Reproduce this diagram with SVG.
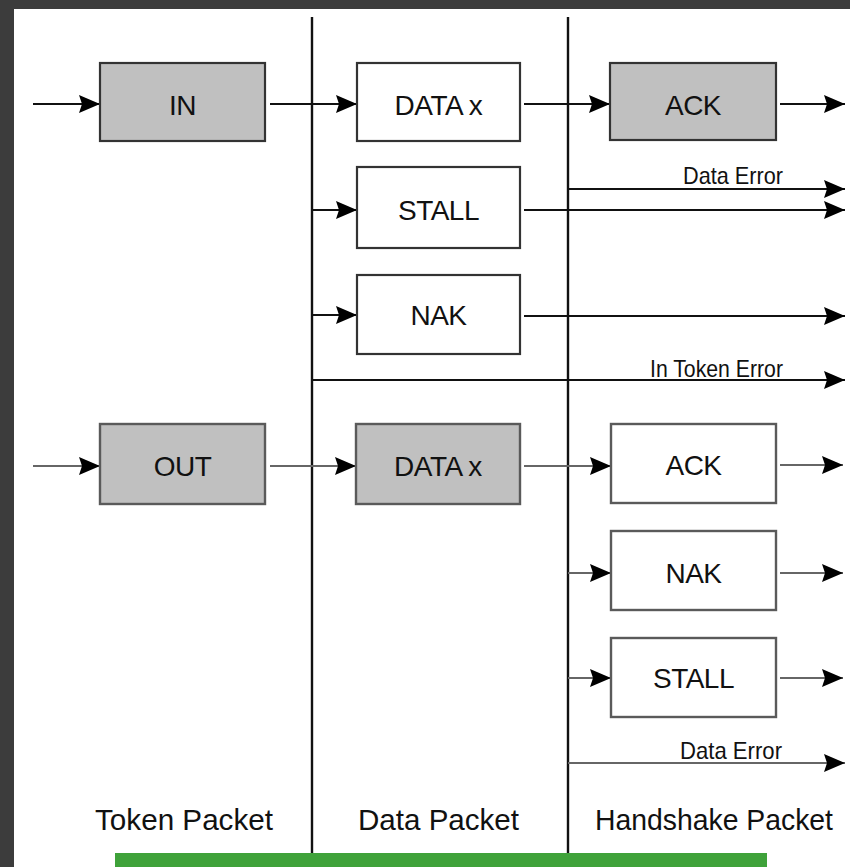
<svg xmlns="http://www.w3.org/2000/svg" width="850" height="867" viewBox="0 0 850 867">
<style>
.box{stroke:#333;stroke-width:2.2}
.box2{stroke:#5a5a5a;stroke-width:2.4}
.gray{fill:#c0c0c0}
.white{fill:#ffffff}
.lbl{font-family:"Liberation Sans",Arial,sans-serif;font-size:28px;fill:#111;text-anchor:middle;letter-spacing:-0.5px}
.small{font-family:"Liberation Sans",Arial,sans-serif;font-size:24px;fill:#111}
.col{font-family:"Liberation Sans",Arial,sans-serif;font-size:30px;fill:#111}
.ln{stroke:#111;stroke-width:2;fill:none;marker-end:url(#ah)}
.ln2{stroke:#666;stroke-width:2.2;fill:none;marker-end:url(#ah)}
.v{stroke:#111;stroke-width:2.4;fill:none}
</style>
<defs>
<marker id="ah" markerUnits="userSpaceOnUse" markerWidth="22" markerHeight="18" refX="21" refY="9" orient="auto">
<path d="M0,0 L21,9 L0,18 L3,9 z" fill="#000"/>
</marker>
</defs>
<rect x="0" y="0" width="850" height="867" fill="#3c3c3c"/>
<rect x="14" y="9" width="836" height="858" fill="#ffffff"/>

<g id="connectors">
<path class="v" d="M312,17 V853"/>
<path class="v" d="M568,17 V853"/>
<path class="ln" d="M33,104 H100"/>
<path class="ln" d="M270,104 H357"/>
<path class="ln" d="M524,104 H610"/>
<path class="ln" d="M780,104 H845"/>
<path class="ln" d="M312,210 H357"/>
<path class="ln" d="M312,315 H357"/>
<path class="ln" d="M568,189 H845"/>
<path class="ln" d="M524,210 H845"/>
<path class="ln" d="M524,316 H845"/>
<path class="ln" d="M312,380 H845"/>
<path class="ln2" d="M33,466 H100"/>
<path class="ln2" d="M270,466 H356"/>
<path class="ln2" d="M524,466 H611"/>
<path class="ln2" d="M780,465 H843"/>
<path class="ln2" d="M568,573 H611"/>
<path class="ln2" d="M780,573 H843"/>
<path class="ln2" d="M568,678 H611"/>
<path class="ln2" d="M780,678 H843"/>
<path class="ln2" d="M568,763 H845"/>
<text class="small" x="683" y="184" textLength="100" lengthAdjust="spacingAndGlyphs">Data Error</text>
<text class="small" x="650" y="377" textLength="133" lengthAdjust="spacingAndGlyphs">In Token Error</text>
<text class="small" x="680" y="759" textLength="102" lengthAdjust="spacingAndGlyphs">Data Error</text>
</g>

<g id="in"><rect class="box gray" x="100" y="63" width="165" height="78"/><text class="lbl" x="182.5" y="115">IN</text></g>
<g id="datax1"><rect class="box white" x="357" y="63" width="163" height="78"/><text class="lbl" x="438.5" y="115">DATA x</text></g>
<g id="ack1"><rect class="box gray" x="610" y="63" width="166" height="77"/><text class="lbl" x="693" y="115">ACK</text></g>
<g id="stall1"><rect class="box white" x="357" y="167" width="163" height="81"/><text class="lbl" x="438.5" y="220">STALL</text></g>
<g id="nak1"><rect class="box white" x="357" y="275" width="163" height="79"/><text class="lbl" x="438.5" y="325">NAK</text></g>

<g id="out"><rect class="box2 gray" x="100" y="424" width="165" height="80"/><text class="lbl" x="182.5" y="476">OUT</text></g>
<g id="datax2"><rect class="box2 gray" x="356" y="424" width="164" height="80"/><text class="lbl" x="438" y="476">DATA x</text></g>
<g id="ack2"><rect class="box2 white" x="611" y="424" width="165" height="79"/><text class="lbl" x="693.5" y="475">ACK</text></g>
<g id="nak2"><rect class="box2 white" x="611" y="531" width="165" height="79"/><text class="lbl" x="693.5" y="583">NAK</text></g>
<g id="stall2"><rect class="box2 white" x="611" y="638" width="165" height="79"/><text class="lbl" x="693.5" y="688">STALL</text></g>

<g id="columns">
<text class="col" x="95" y="830" textLength="178" lengthAdjust="spacingAndGlyphs">Token Packet</text>
<text class="col" x="358" y="830" textLength="161" lengthAdjust="spacingAndGlyphs">Data Packet</text>
<text class="col" x="595" y="830" textLength="238" lengthAdjust="spacingAndGlyphs">Handshake Packet</text>
</g>

<rect x="115" y="853" width="652" height="14" fill="#3fa23a"/>
</svg>
